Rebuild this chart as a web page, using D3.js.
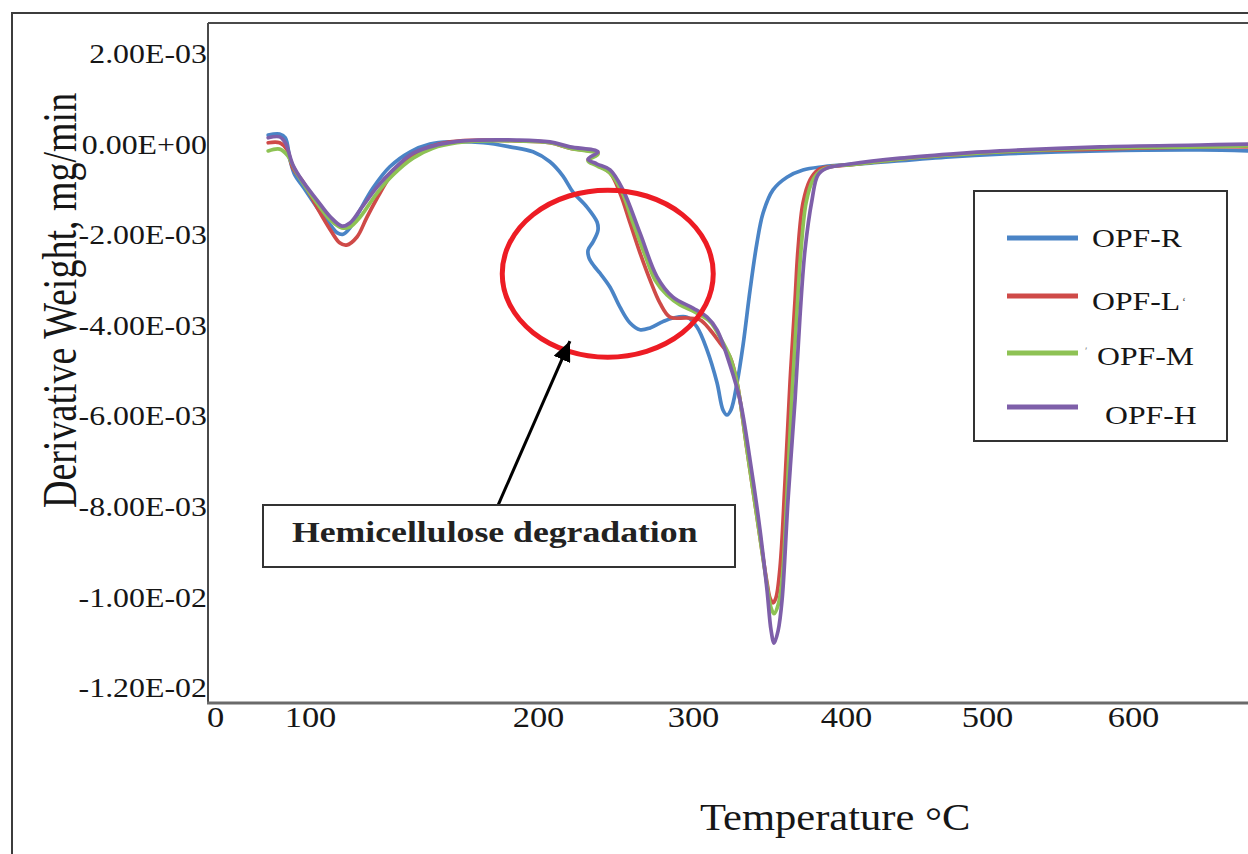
<!DOCTYPE html>
<html><head><meta charset="utf-8">
<script src="https://cdn.jsdelivr.net/npm/d3@7"></script>
<style>html,body{margin:0;padding:0;background:#fff;} svg{display:block;}</style>
</head><body>
<svg id="chart" width="1248" height="854"></svg>
<script>
// ---------------- data ----------------
const seriesNames = ["OPF-R", "OPF-L", "OPF-M", "OPF-H"];

const opfR = [[56,0.21e-3],[68,0.23e-3],[74,0.15e-3],[79,-0.34e-3],[84,-0.67e-3],[93,-0.94e-3],[103,-1.38e-3],[109,-1.78e-3],[112,-1.95e-3],[114.5,-1.98e-3],[117.5,-1.84e-3],[122,-1.44e-3],[127.6,-0.96e-3],[135,-0.49e-3],[144,-0.16e-3],[152.6,0.01e-3],[161.4,0.06e-3],[176,0.04e-3],[187.7,-0.05e-3],[197.8,-0.16e-3],[207.7,-0.38e-3],[216,-0.69e-3],[222.6,-1.05e-3],[231.6,-1.38e-3],[238.1,-1.71e-3],[238.7,-1.89e-3],[235.5,-2.15e-3],[232.3,-2.33e-3],[232.9,-2.50e-3],[236.1,-2.68e-3],[240,-2.84e-3],[246.5,-3.15e-3],[252.9,-3.59e-3],[259.4,-3.94e-3],[265.8,-4.09e-3],[272.3,-4.05e-3],[280.6,-3.91e-3],[287.1,-3.83e-3],[296.1,-3.81e-3],[302.6,-4.03e-3],[309.2,-4.54e-3],[315.7,-5.26e-3],[319.6,-5.86e-3],[322.2,-5.97e-3],[324.8,-5.86e-3],[328.8,-5.26e-3],[332.7,-4.43e-3],[337.3,-3.21e-3],[341.8,-2.17e-3],[345.8,-1.51e-3],[352.3,-1.00e-3],[361.4,-0.72e-3],[371.9,-0.56e-3],[384.9,-0.49e-3],[417,-0.41e-3],[473.8,-0.27e-3],[508.9,-0.21e-3],[577.4,-0.14e-3],[645.9,-0.12e-3],[678.8,-0.14e-3]];

const opfL = [[56,0.04e-3],[68,0.04e-3],[76,-0.12e-3],[82,-0.52e-3],[93,-0.83e-3],[103,-1.38e-3],[109,-1.89e-3],[113,-2.17e-3],[116,-2.22e-3],[120.6,-2.04e-3],[125,-1.60e-3],[130.7,-1.07e-3],[136.4,-0.61e-3],[143.9,-0.27e-3],[152.6,-0.05e-3],[161.4,0.06e-3],[176,0.10e-3],[190.8,0.08e-3],[207.7,0.04e-3],[220.6,-0.08e-3],[238.7,-0.19e-3],[232.3,-0.34e-3],[238.1,-0.45e-3],[246.5,-0.63e-3],[252.9,-1.07e-3],[259.4,-1.73e-3],[265.8,-2.39e-3],[272.3,-2.99e-3],[278.7,-3.50e-3],[285.2,-3.81e-3],[296.1,-3.83e-3],[304.6,-3.87e-3],[311.1,-4.09e-3],[317.6,-4.38e-3],[324.2,-4.69e-3],[328.8,-5.26e-3],[335.3,-6.74e-3],[341.8,-8.22e-3],[348.4,-9.68e-3],[350.3,-10.01e-3],[352.3,-10.12e-3],[354.2,-10.01e-3],[356.9,-9.33e-3],[360.1,-7.47e-3],[363.4,-5.26e-3],[366.7,-3.43e-3],[368.6,-2.33e-3],[371.9,-1.29e-3],[376.5,-0.78e-3],[381.7,-0.56e-3],[389.5,-0.49e-3],[402.8,-0.45e-3],[438.3,-0.32e-3],[473.8,-0.23e-3],[508.9,-0.16e-3],[577.4,-0.10e-3],[645.9,-0.05e-3],[678.8,-0.05e-3]];

const opfM = [[56,-0.14e-3],[68,-0.10e-3],[76,-0.23e-3],[86,-0.63e-3],[103,-1.29e-3],[109,-1.67e-3],[114,-1.84e-3],[117.5,-1.82e-3],[122,-1.60e-3],[129.4,-1.07e-3],[136.4,-0.67e-3],[145.2,-0.30e-3],[153.9,-0.08e-3],[164.5,0.04e-3],[176,0.08e-3],[190.8,0.08e-3],[207.7,0.04e-3],[220.6,-0.08e-3],[238.7,-0.21e-3],[232.3,-0.36e-3],[238.1,-0.47e-3],[246.5,-0.63e-3],[254.2,-1.05e-3],[261.3,-1.73e-3],[269,-2.44e-3],[275.5,-2.99e-3],[283.2,-3.32e-3],[291.6,-3.54e-3],[301.3,-3.70e-3],[311.1,-3.91e-3],[317.6,-4.25e-3],[324.2,-4.69e-3],[328.8,-5.26e-3],[335.3,-6.74e-3],[341.8,-8.22e-3],[348.4,-9.73e-3],[351,-10.23e-3],[353,-10.36e-3],[355.6,-10.17e-3],[358.2,-9.62e-3],[361.4,-7.74e-3],[364.7,-5.53e-3],[368,-3.65e-3],[370.6,-2.33e-3],[373.9,-1.29e-3],[378.4,-0.78e-3],[384.3,-0.56e-3],[392.8,-0.47e-3],[402.8,-0.45e-3],[438.3,-0.32e-3],[473.8,-0.23e-3],[508.9,-0.16e-3],[577.4,-0.08e-3],[645.9,-0.05e-3],[678.8,-0.03e-3]];

const opfH = [[56,0.15e-3],[68,0.17e-3],[74,0.04e-3],[82,-0.45e-3],[93,-0.83e-3],[103,-1.22e-3],[109,-1.60e-3],[114,-1.80e-3],[117.5,-1.73e-3],[122,-1.44e-3],[129.4,-0.94e-3],[136.4,-0.56e-3],[145.2,-0.19e-3],[155.7,-0.01e-3],[167.1,0.08e-3],[190.8,0.10e-3],[207.7,0.06e-3],[220.6,-0.05e-3],[238.7,-0.16e-3],[232.3,-0.32e-3],[238.1,-0.43e-3],[246.5,-0.56e-3],[254.8,-1.00e-3],[265.8,-1.95e-3],[276.8,-2.92e-3],[287.1,-3.37e-3],[300,-3.61e-3],[309.2,-3.81e-3],[315.7,-4.09e-3],[324.2,-4.87e-3],[330.7,-5.64e-3],[337.3,-6.97e-3],[343.8,-8.51e-3],[348.4,-9.84e-3],[351,-10.72e-3],[353,-11.01e-3],[355.6,-10.74e-3],[358.2,-10.06e-3],[362.1,-7.85e-3],[366.7,-5.64e-3],[369.9,-3.81e-3],[373.2,-2.33e-3],[377.8,-1.22e-3],[381.7,-0.67e-3],[387.6,-0.52e-3],[402.8,-0.43e-3],[438.3,-0.30e-3],[473.8,-0.21e-3],[508.9,-0.14e-3],[577.4,-0.05e-3],[645.9,-0.01e-3],[678.8,0.01e-3]];

const xTicks = [0, 100, 200, 300, 400, 500, 600];
const xTickLabels = ["0", "100", "200", "300", "400", "500", "600"];
const yTicks = [0.002, 0, -0.002, -0.004, -0.006, -0.008, -0.010, -0.012];
const yTickLabels = ["2.00E-03", "0.00E+00", "-2.00E-03", "-4.00E-03", "-6.00E-03", "-8.00E-03", "-1.00E-02", "-1.20E-02"];
const xTitleParts = ["Temperature ", "\u00B0", "C"];
const yTitle = "Derivative Weight, mg/min";
const noteText = "Hemicellulose degradation";
const circleCenter = [245, -2.85e-3];
const arrowFrom = [182.5, -7.96e-3];
const arrowTo = [220.6, -4.34e-3];

// ---------------- layout / style ----------------
const plot = {left: 208, top: 23, right: 1248, bottom: 703};
const colors = ["#4a84c6", "#cf4a48", "#8ec254", "#7e5fa9"];
const serif = "'Liberation Serif','Times New Roman',serif";
const ink = "#161616";

const svg = d3.select("#chart");

// scales (x labels in the figure are unevenly spaced -> piecewise linear scale)
const x = d3.scaleLinear().domain(xTicks).range([215, 310, 538, 693, 846, 987, 1133]);
const y = d3.scaleLinear().domain([-0.012, 0.002]).range([688, 54]);

// outer frame
svg.append("rect").attr("x", 12).attr("y", 13).attr("width", 1300).attr("height", 900)
  .attr("fill", "none").attr("stroke", "#3c3c3c").attr("stroke-width", 2);

const defs = svg.append("defs");
defs.append("clipPath").attr("id", "clip")
  .append("rect").attr("x", plot.left).attr("y", plot.top)
  .attr("width", plot.right - plot.left).attr("height", plot.bottom - plot.top);

// plot frame
svg.append("line").attr("x1", plot.left).attr("x2", plot.right).attr("y1", plot.top).attr("y2", plot.top)
  .attr("stroke", "#4a4a4a").attr("stroke-width", 2);
svg.append("line").attr("x1", plot.left).attr("x2", plot.left).attr("y1", plot.top).attr("y2", plot.bottom)
  .attr("stroke", "#4a4a4a").attr("stroke-width", 2);
svg.append("line").attr("x1", plot.left - 1).attr("x2", plot.right).attr("y1", plot.bottom).attr("y2", plot.bottom)
  .attr("stroke", "#6a6a6a").attr("stroke-width", 3);

// axes
const gx = svg.append("g").attr("transform", `translate(0,${plot.bottom})`)
  .call(d3.axisBottom(x).tickValues(xTicks).tickFormat((d, i) => xTickLabels[i]).tickSize(0).tickPadding(3));
gx.select(".domain").remove();
gx.selectAll("text").attr("font-family", serif).attr("font-size", 30).attr("fill", ink)
  .attr("transform", "scale(1.15,1)");

const gy = svg.append("g").attr("transform", `translate(${plot.left},0)`)
  .call(d3.axisLeft(y).tickValues(yTicks).tickFormat((d, i) => yTickLabels[i]).tickSize(0).tickPadding(1));
gy.select(".domain").remove();
gy.selectAll("text").attr("font-family", serif).attr("font-size", 27).attr("fill", ink)
  .attr("transform", "scale(1.18,1)");

// axis titles
svg.append("text").attr("transform", "translate(76,508) scale(1.26,1) rotate(-90)")
  .attr("font-family", serif).attr("font-size", 38).attr("fill", ink).text(yTitle);
const xt = svg.append("text").attr("transform", "translate(700,830) scale(1.12,1)")
  .attr("font-family", serif).attr("font-size", 38).attr("fill", ink);
xt.append("tspan").text(xTitleParts[0]);
xt.append("tspan").attr("dy", 4).text(xTitleParts[1]);
xt.append("tspan").attr("dy", -4).text(xTitleParts[2]);

// curves
const line = d3.line().x(d => x(d[0])).y(d => y(d[1])).curve(d3.curveCatmullRom.alpha(0.5));
const allSeries = [opfR, opfL, opfM, opfH];
const gLines = svg.append("g").attr("clip-path", "url(#clip)");
allSeries.forEach((s, i) => {
  gLines.append("path").datum(s).attr("d", line).attr("fill", "none")
    .attr("stroke", colors[i]).attr("stroke-width", 3.7)
    .attr("stroke-linejoin", "round").attr("stroke-linecap", "round");
});

// red ellipse
svg.append("ellipse").attr("cx", x(circleCenter[0])).attr("cy", y(circleCenter[1]))
  .attr("rx", 105.5).attr("ry", 83.5).attr("fill", "none")
  .attr("stroke", "#ed1c24").attr("stroke-width", 5);

// arrow
defs.append("marker").attr("id", "head")
  .attr("markerUnits", "userSpaceOnUse").attr("markerWidth", 20).attr("markerHeight", 18)
  .attr("refX", 20).attr("refY", 9).attr("orient", "auto")
  .append("path").attr("d", "M0,0L20,9L0,18Z").attr("fill", "#000");
const ax1 = x(arrowFrom[0]), ay1 = y(arrowFrom[1]), ax2 = x(arrowTo[0]), ay2 = y(arrowTo[1]);
svg.append("line").attr("x1", ax1).attr("y1", ay1).attr("x2", ax2).attr("y2", ay2)
  .attr("stroke", "#000").attr("stroke-width", 3).attr("marker-end", "url(#head)");

// annotation box
svg.append("rect").attr("x", 263).attr("y", 505).attr("width", 472).attr("height", 62)
  .attr("fill", "#fff").attr("stroke", "#333").attr("stroke-width", 2);
svg.append("text").attr("transform", "translate(292,542) scale(1.19,1)")
  .attr("font-family", serif).attr("font-weight", "bold").attr("font-size", 30)
  .attr("fill", "#222").text(noteText);

// legend
svg.append("rect").attr("x", 974).attr("y", 191).attr("width", 253).attr("height", 250)
  .attr("fill", "#fff").attr("stroke", "#333").attr("stroke-width", 2);
const legLineY = [238, 296, 353, 407];
const legTextX = [1092, 1092, 1097, 1105];
const legTextY = [247, 310, 365, 424];
seriesNames.forEach((n, i) => {
  svg.append("line").attr("x1", 1007).attr("x2", 1078).attr("y1", legLineY[i]).attr("y2", legLineY[i])
    .attr("stroke", colors[i]).attr("stroke-width", 5);
  svg.append("text").attr("transform", `translate(${legTextX[i]},${legTextY[i]}) scale(1.22,1)`)
    .attr("font-family", serif).attr("font-size", 26).attr("fill", ink).text(n);
});
svg.append("text").attr("x", 1182).attr("y", 306).attr("font-family", serif).attr("font-size", 12)
  .attr("fill", "#555").text("\u02BB");
svg.append("text").attr("x", 1085).attr("y", 354).attr("font-family", serif).attr("font-size", 11)
  .attr("fill", "#777").text("\u02B9");
</script>
</body></html>
